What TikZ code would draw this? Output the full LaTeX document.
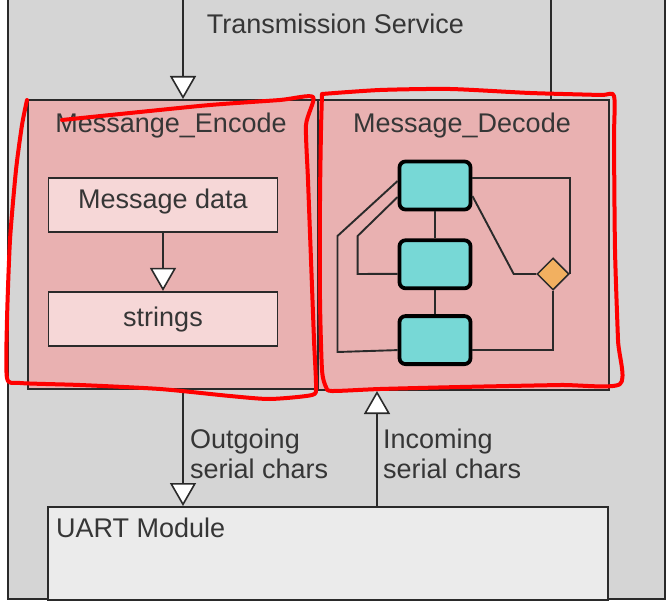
\documentclass[tikz,border=0pt]{standalone}
\usepackage{fontspec}
\setmainfont{Liberation Sans}
\usetikzlibrary{shapes.geometric,arrows.meta,positioning}
\definecolor{backgray}{HTML}{D5D5D5}
\definecolor{uartgray}{HTML}{EBEBEB}
\definecolor{partpink}{HTML}{E9B1B1}
\definecolor{blockpink}{HTML}{F6D7D7}
\definecolor{statecyan}{HTML}{77D8D6}
\definecolor{choiceorange}{HTML}{F2B060}
\definecolor{inkgray}{HTML}{2A2A2A}
\definecolor{textgray}{HTML}{363636}
\tikzstyle{line} = [draw=inkgray, line width=1.9pt, -{Triangle[width=26pt,length=23pt,fill=white,line width=1.6pt]}]
\tikzstyle{wire} = [draw=inkgray, line width=1.9pt]
\tikzstyle{txt} = [text=textgray, inner sep=0pt, font=\fontsize{27}{30}\selectfont]
\tikzstyle{part} = [draw=inkgray, rectangle, fill=partpink, line width=2pt, anchor=north west, inner sep=0pt]
\tikzstyle{block} = [draw=inkgray, rectangle, text centered, fill=blockpink, line width=1.8pt, minimum width=229pt, minimum height=54pt]
\tikzstyle{state} = [draw=black, rectangle, rounded corners=6pt, fill=statecyan, line width=3.8pt, minimum width=71pt, minimum height=48pt]
\tikzstyle{choice} = [draw=inkgray, diamond, fill=choiceorange, line width=1.5pt, minimum width=32pt, minimum height=32pt, inner sep=0pt]
\tikzstyle{scribble} = [draw=red, line width=4pt, line cap=round, line join=round]

\begin{document}
\begin{tikzpicture}[x=1pt, y=-1pt]
        \useasboundingbox (0,0) rectangle (671,601);
        % frame of the transmission service
        \fill[backgray] (8,0) rectangle (665,599);
        \draw[inkgray, line width=2pt] (8,0) -- (8,599) -- (665,599) -- (665,0);
        \node[txt, anchor=base] (service) at (335.5,34) {Transmission Service};

        % the two parts
        \node[part, minimum width=290pt, minimum height=289pt] (encode) at (27,99) {};
        \node[part, minimum width=291pt, minimum height=290pt] (decode) at (317,99) {};
        \node[txt, anchor=base] (encodetitle) at (171,133) {Messange\_Encode};
        \node[txt, anchor=base] (decodetitle) at (462,133) {Message\_Decode};

        % encode contents
        \node[block] (msgdata) at (163,205) {};
        \node[block, below=58pt of msgdata] (strings) {};
        \node[txt, anchor=base] (msgdatatext) at (msgdata.center |- 0,209) {Message data};
        \node[txt, anchor=base] (stringstext) at (strings.center |- 0,326) {strings};
        \path[line] (msgdata) -- (strings);

        % decode contents
        \node[state] (s1) at (435,185.5) {};
        \node[state, below=27pt of s1] (s2) {};
        \node[state, below=24pt of s2] (s3) {};
        \node[choice] (branch) at (553,274) {};
        \path[wire] (s1) -- (s2);
        \path[wire] (s2) -- (s3);
        \path[wire] ([yshift=4.5pt]s1.west) -- (337.5,236) -- (337.5,352) -- ([yshift=-10pt]s3.west);
        \path[wire] ([yshift=-11.5pt]s1.west) -- (357.6,236) -- (357.6,274) -- ([yshift=-9.5pt]s2.west);
        \path[wire] ([yshift=7.5pt]s1.east) -| (branch.east);
        \path[wire] ([yshift=-10.5pt]s1.east) -- (513.7,274) -- (branch.west);
        \path[wire] (branch.south) |- ([yshift=-10pt]s3.east);

        % uart
        \node[draw=inkgray, fill=uartgray, line width=2pt, anchor=north west, minimum width=560pt, minimum height=93pt] (uart) at (47,506) {};
        \node[txt, anchor=base west] (uarttitle) at (56,537) {UART Module};

        % flows
        \coordinate (topin) at (183,0);
        \coordinate (topout) at (551,0);
        \coordinate (inx) at (377,0);
        \path[line] (topin) -- (topin |- encode.north);
        \path[wire] (topout) -- (topout |- decode.north);
        \path[line] (encode.south -| topin) -- (uart.north -| topin);
        \path[line] (uart.north -| inx) -- (decode.south -| inx);
        \node[txt, anchor=base west, align=left] (outlabel) at (190,478) {Outgoing\\serial chars};
        \node[txt, anchor=base west, align=left] (inlabel) at (383,478) {Incoming\\serial chars};

        % red marks round the parts
        \draw[scribble] plot[smooth, tension=0.4] coordinates {(62,120) (130,113) (210,105) (280,100) (313,97) (306,125) (308,180) (311,260) (314,340) (316,386) (312,395) (270,399) (230,396) (160,389) (80,385) (20,383) (7,378) (7,320) (10,240) (16,170) (22,125) (27,100)};
        \draw[scribble] plot[smooth, tension=0.4] coordinates {(322,94) (380,90) (450,89) (530,93) (600,95) (614,96) (614,140) (615,250) (618,340) (620,384) (560,385) (460,387) (380,389) (332,391) (326,387) (322,370) (320,300) (320,200) (321,130) (322,94)};
    \end{tikzpicture}
\end{document}
